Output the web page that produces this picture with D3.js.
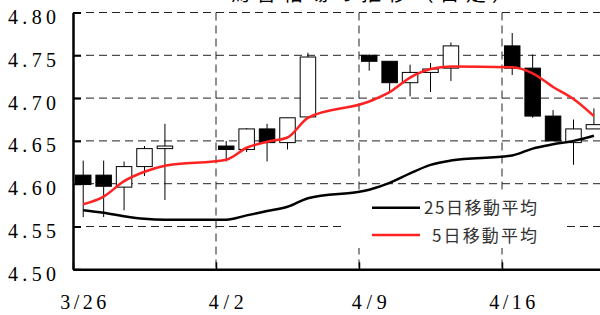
<!DOCTYPE html>
<html>
<head>
<meta charset="utf-8">
<script src="https://cdn.jsdelivr.net/npm/d3@7.9.0/dist/d3.min.js"></script>
<style>
  html, body { margin: 0; padding: 0; background: #fff; }
  svg { display: block; }
</style>
</head>
<body>
<svg id="chart" width="600" height="315"></svg>
<script>
// daily candles (trading days)
const dates = ["3/26","3/27","3/28","3/29","3/30","4/2","4/3","4/4","4/5","4/6",
  "4/9","4/10","4/11","4/12","4/13","4/16","4/17","4/18","4/19","4/20"];
const openVals  = [4.610,4.610,4.596,4.620,4.641,4.644,4.640,4.664,4.648,4.678,
  4.750,4.743,4.718,4.730,4.735,4.761,4.735,4.679,4.648,4.664];
const closeVals = [4.599,4.597,4.620,4.641,4.644,4.640,4.664,4.648,4.677,4.748,
  4.743,4.718,4.730,4.734,4.761,4.735,4.679,4.650,4.664,4.669];
const highVals  = [4.627,4.627,4.626,4.644,4.670,4.650,4.665,4.670,4.677,4.753,
  4.751,4.743,4.739,4.741,4.765,4.776,4.751,4.686,4.675,4.688];
const lowVals   = [4.561,4.561,4.569,4.609,4.581,4.626,4.637,4.626,4.640,4.678,
  4.732,4.707,4.702,4.707,4.720,4.727,4.677,4.650,4.622,4.664];

// moving averages
const ma5  = [4.576,4.585,4.603,4.614,4.621,4.628,4.642,4.649,4.654,4.677,
  4.696,4.707,4.724,4.734,4.737,4.736,4.729,4.713,4.699,4.679];
const ma25 = [4.569,4.566,4.562,4.559,4.558,4.558,4.563,4.568,4.573,4.583,
  4.593,4.601,4.612,4.622,4.627,4.633,4.641,4.646,4.650,4.656];

// axis labels
const yTicks = [4.50, 4.55, 4.60, 4.65, 4.70, 4.75, 4.80];
const xTickLabels = ["3/26", "4/2", "4/9", "4/16"];
const legendLabels = ["25日移動平均", "5日移動平均"];
const titleText = "為替相場の推移（日足）";

const toDate = (s) => {
  const [m, d] = s.split("/").map(Number);
  return new Date(Date.UTC(2018, m - 1, d));
};

const svg = d3.select("#chart");
const plotLeft = 73, plotBottom = 269.3, plotTop = 12.5;
const dayW = 143 / 7;

const x = d3.scaleUtc()
  .domain([toDate("3/26"), toDate("4/21")])
  .range([plotLeft, plotLeft + 26 * dayW]);
const y = d3.scaleLinear().domain([4.50, 4.80]).range([plotBottom, plotTop]);
const cx = (s) => x(toDate(s)) + dayW / 2;

svg.append("rect").attr("width", 600).attr("height", 315).attr("fill", "#fff");

// title (mostly cut off above the frame, as in the source)
svg.append("text")
  .attr("x", 371).attr("y", 0.5)
  .attr("text-anchor", "middle")
  .attr("font-family", "Noto Sans CJK JP")
  .attr("font-size", 20)
  .attr("textLength", 282)
  .attr("lengthAdjust", "spacing")
  .text(titleText);

// grid
const grid = svg.append("g").attr("stroke", "#222").attr("stroke-width", 1)
  .attr("stroke-dasharray", "8,5");
grid.selectAll("line.h").data(yTicks.slice(1)).join("line")
  .attr("class", "h")
  .attr("x1", plotLeft).attr("x2", 600)
  .attr("y1", (d) => y(d)).attr("y2", (d) => y(d));
grid.selectAll("line.v").data(xTickLabels.slice(1)).join("line")
  .attr("class", "v")
  .attr("x1", (d) => x(toDate(d))).attr("x2", (d) => x(toDate(d)))
  .attr("y1", plotTop).attr("y2", plotBottom);

// legend box hides the grid behind it
svg.append("rect")
  .attr("x", 343).attr("y", 190).attr("width", 224).attr("height", 58)
  .attr("fill", "#fff");

// candles
const candles = dates.map((d, i) => ({
  date: d, open: openVals[i], close: closeVals[i], high: highVals[i], low: lowVals[i]
}));
const bodyW = 15.5;
const cg = svg.append("g");
cg.selectAll("line").data(candles).join("line")
  .attr("x1", (d) => cx(d.date)).attr("x2", (d) => cx(d.date))
  .attr("y1", (d) => y(d.high)).attr("y2", (d) => y(d.low))
  .attr("stroke", "#000").attr("stroke-width", 1);
cg.selectAll("rect").data(candles).join("rect")
  .attr("x", (d) => cx(d.date) - bodyW / 2)
  .attr("width", bodyW)
  .attr("y", (d) => y(Math.max(d.open, d.close)))
  .attr("height", (d) => Math.max(1.5, Math.abs(y(d.open) - y(d.close))))
  .attr("fill", (d) => d.close < d.open ? "#000" : "#fff")
  .attr("stroke", "#000").attr("stroke-width", 1);

// moving average lines
const line = d3.line()
  .x((d, i) => cx(dates[i]))
  .y((d) => y(d))
  .curve(d3.curveMonotoneX);
svg.append("path").attr("d", line(ma25))
  .attr("fill", "none").attr("stroke", "#000").attr("stroke-width", 2.5);
svg.append("path").attr("d", line(ma5))
  .attr("fill", "none").attr("stroke", "#f22").attr("stroke-width", 2.5);

// axes
const yAxis = svg.append("g")
  .attr("transform", `translate(${plotLeft},0)`)
  .call(d3.axisLeft(y).tickValues(yTicks).tickSizeInner(-8).tickSizeOuter(0)
    .tickPadding(17).tickFormat(d3.format(".2f")));
yAxis.select(".domain").attr("stroke-width", 2.5);
yAxis.selectAll(".tick line").attr("stroke-width", 2);
yAxis.selectAll("text")
  .attr("dy", null).attr("y", 11)
  .attr("font-family", "Liberation Serif").attr("font-size", 20)
  .attr("fill", "#000")
  .attr("textLength", 48).attr("lengthAdjust", "spacing");

const xAxis = svg.append("g")
  .attr("transform", `translate(0,${plotBottom})`)
  .call(d3.axisBottom(x).tickValues(xTickLabels.map(toDate))
    .tickSizeInner(-7).tickSizeOuter(0).tickFormat(""));
xAxis.select(".domain").attr("stroke-width", 2.5);
xAxis.selectAll(".tick line").attr("stroke-width", 1.5);

svg.append("g").selectAll("text").data(xTickLabels).join("text")
  .attr("x", (d) => cx(d)).attr("y", 309)
  .attr("text-anchor", "middle")
  .attr("font-family", "Liberation Serif").attr("font-size", 20)
  .attr("textLength", (d) => d.length === 4 ? 46 : 35)
  .attr("lengthAdjust", "spacing")
  .text((d) => d);

// legend
const legend = svg.append("g");
const legColors = ["#000", "#f22"];
legendLabels.forEach((lab, i) => {
  const ly = 207.7 + i * 27.3;
  legend.append("line")
    .attr("x1", 372).attr("x2", 420).attr("y1", ly).attr("y2", ly)
    .attr("stroke", legColors[i]).attr("stroke-width", 2.5);
  legend.append("text")
    .attr("x", i === 0 ? 424 : 432).attr("y", ly + 6.5)
    .attr("font-family", "Noto Sans CJK JP").attr("font-size", 17)
    .attr("fill", "#333")
    .attr("textLength", i === 0 ? 113 : 105).attr("lengthAdjust", "spacing")
    .text(lab);
});
</script>
</body>
</html>
